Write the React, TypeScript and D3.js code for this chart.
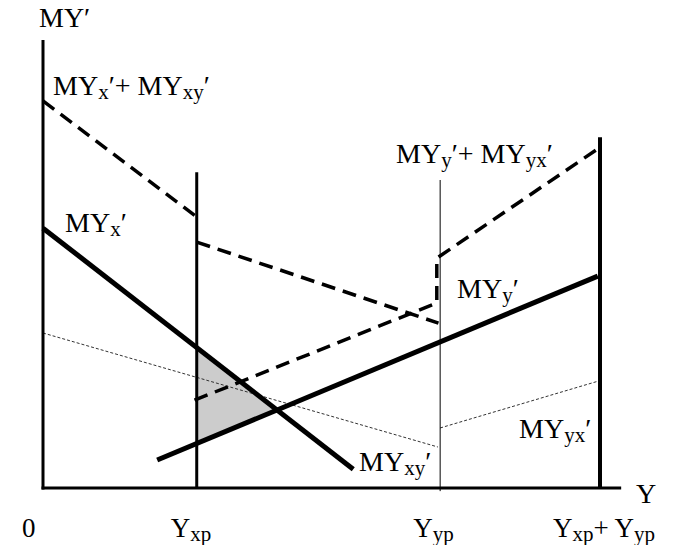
import React from "react";
import * as d3 from "d3";

const W = 674;
const H = 545;

// Key income levels on the horizontal axis (data units)
const Y_XP = 27.6;
const Y_YP = 71.3;
const Y_SUM = 100;
const X_AXIS_END = 103.8;
const Y_AXIS_TOP = 100;

// Curves (x, y) in data units
const myX: [number, number][] = [[0, 58.0], [55.7, 4.2]];
const myY: [number, number][] = [[20.5, 6.25], [99.6, 47.3]];
const myXplusXYLeft: [number, number][] = [[0, 86.4], [Y_XP, 60.5]];
const myXplusXYRight: [number, number][] = [[Y_XP, 54.9], [71.0, 36.8]];
const myYplusYX: [number, number][] = [[27.2, 19.6], [70.7, 41.3], [70.7, 51.3], [99.6, 75.7]];
const myXY: [number, number][] = [[0, 34.6], [70.9, 9.15]];
const myYX: [number, number][] = [[71.3, 13.4], [99.8, 23.9]];

// Vertical reference lines: x, top, bottom
const verticals = [
  { x: Y_XP, top: 70.5, bottom: 0, w: 3 },
  { x: Y_YP, top: 68.75, bottom: -0.7, w: 1 },
  { x: Y_SUM, top: 78.3, bottom: 0, w: 4 },
];

// Tick labels on the x axis
const tickLabels: { v: number; parts: [string, boolean][] }[] = [
  { v: 0, parts: [["0", false]] },
  { v: Y_XP, parts: [["Y", false], ["xp", true]] },
  { v: Y_YP, parts: [["Y", false], ["yp", true]] },
  { v: Y_SUM, parts: [["Y", false], ["xp", true], ["+ Y", false], ["yp", true]] },
];
const tickOffsets = [-21, -26, -27, -47];

const FONT = "'Liberation Serif', 'Times New Roman', serif";

const x = d3.scaleLinear().domain([0, 100]).range([43, 600]);
const y = d3.scaleLinear().domain([0, 100]).range([488, 40]);
const line = d3.line<[number, number]>().x((d) => x(d[0])).y((d) => y(d[1]));

function valAt(seg: [number, number][], xv: number) {
  const [[x0, y0], [x1, y1]] = seg;
  return y0 + ((y1 - y0) * (xv - x0)) / (x1 - x0);
}
function intersect(a: [number, number][], b: [number, number][]): [number, number] {
  const sa = (a[1][1] - a[0][1]) / (a[1][0] - a[0][0]);
  const sb = (b[1][1] - b[0][1]) / (b[1][0] - b[0][0]);
  const ia = a[0][1] - sa * a[0][0];
  const ib = b[0][1] - sb * b[0][0];
  const xi = (ib - ia) / (sa - sb);
  return [xi, sa * xi + ia];
}

const triangle: [number, number][] = [
  [Y_XP, valAt(myX, Y_XP)],
  intersect(myX, myY),
  [Y_XP, valAt(myY, Y_XP)],
];

function Label({ px, py, parts, size = 28 }: { px: number; py: number; parts: [string, boolean][]; size?: number }) {
  const sub = Math.round(size * 0.76);
  let prevSub = false;
  return (
    <text x={px} y={py} fontFamily={FONT} fontSize={size} fill="#000">
      {parts.map(([t, isSub], i) => {
        let dy = 0;
        if (isSub && !prevSub) dy = 4;
        if (!isSub && prevSub) dy = -4;
        prevSub = isSub;
        return (
          <tspan key={i} dy={dy} fontSize={isSub ? sub : size}>
            {t}
          </tspan>
        );
      })}
    </text>
  );
}

export default function App() {
  const dash = "14,8";
  return (
    <svg width={W} height={H} style={{ display: "block", position: "absolute", left: 0, top: 0, background: "#fff" }}>
      {/* shaded triangle */}
      <path d={line(triangle)! + "Z"} fill="#cccccc" stroke="none" />

      {/* dotted curves */}
      <path d={line(myXY)!} fill="none" stroke="#333" strokeWidth={1} strokeDasharray="3,2" />
      <path d={line(myYX)!} fill="none" stroke="#333" strokeWidth={1} strokeDasharray="3,2" />

      {/* verticals */}
      {verticals.map((v, i) => (
        <line key={i} x1={x(v.x)} x2={x(v.x)} y1={y(v.top)} y2={y(v.bottom)} stroke="#000" strokeWidth={v.w} />
      ))}

      {/* dashed sums */}
      <path d={line(myXplusXYLeft)!} fill="none" stroke="#000" strokeWidth={3.5} strokeDasharray={dash} />
      <path d={line(myXplusXYRight)!} fill="none" stroke="#000" strokeWidth={3.5} strokeDasharray={dash} />
      <path d={line(myYplusYX)!} fill="none" stroke="#000" strokeWidth={3.5} strokeDasharray={dash} />

      {/* thick solid curves */}
      <path d={line(myX)!} fill="none" stroke="#000" strokeWidth={5} />
      <path d={line(myY)!} fill="none" stroke="#000" strokeWidth={5} />

      {/* axes */}
      <line x1={x(0)} x2={x(0)} y1={y(Y_AXIS_TOP)} y2={y(0) + 1.5} stroke="#000" strokeWidth={3} />
      <line x1={x(0) - 1.5} x2={x(X_AXIS_END)} y1={y(0)} y2={y(0)} stroke="#000" strokeWidth={3} />

      {/* axis titles */}
      <Label px={39} py={27} parts={[["MY′", false]]} />
      <Label px={636} py={503} parts={[["Y", false]]} />

      {/* tick labels */}
      {tickLabels.map((t, i) => (
        <Label key={i} px={x(t.v) + tickOffsets[i]} py={537} parts={t.parts} size={27} />
      ))}

      {/* curve labels */}
      <Label px={53} py={95} parts={[["MY", false], ["x", true], ["′+ MY", false], ["xy", true], ["′", false]]} />
      <Label px={65} py={232} parts={[["MY", false], ["x", true], ["′", false]]} />
      <Label px={396} py={163} parts={[["MY", false], ["y", true], ["′+ MY", false], ["yx", true], ["′", false]]} />
      <Label px={457} py={298} parts={[["MY", false], ["y", true], ["′", false]]} />
      <Label px={359} py={471} parts={[["MY", false], ["xy", true], ["′", false]]} />
      <Label px={519} py={438} parts={[["MY", false], ["yx", true], ["′", false]]} />
    </svg>
  );
}
